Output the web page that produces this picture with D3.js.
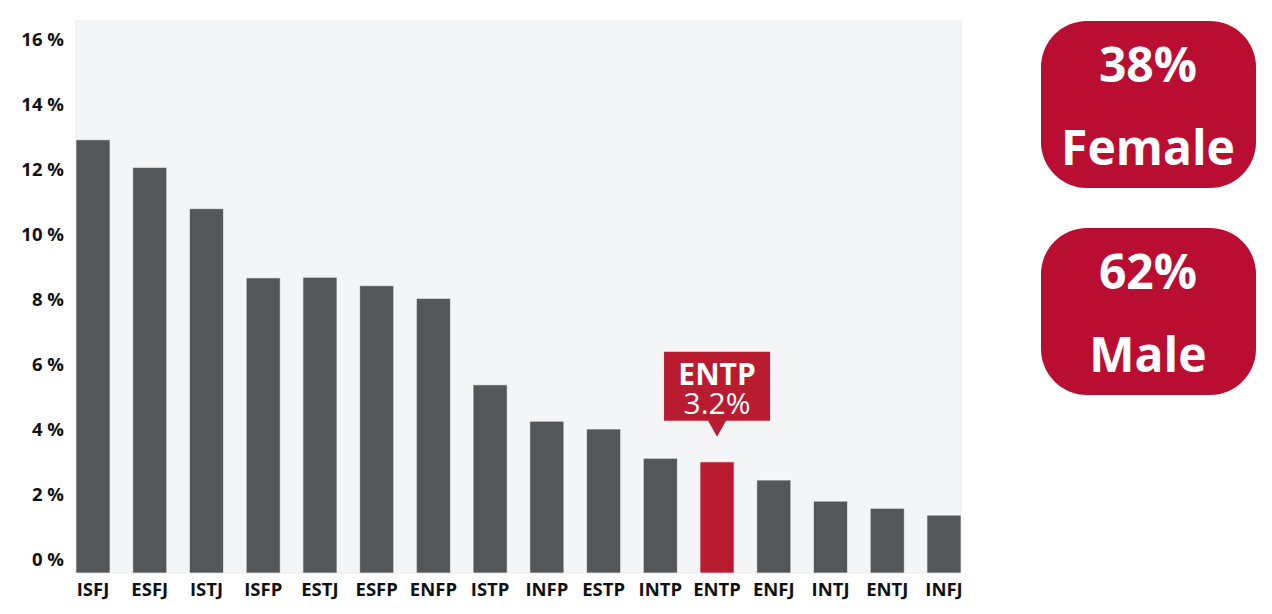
<!DOCTYPE html>
<html><head><meta charset="utf-8">
<script src="https://cdn.jsdelivr.net/npm/d3@7"></script>
<style>body{margin:0;background:#fff;} svg{display:block;font-family:"Open Sans",sans-serif;}</style>
</head><body><svg id="c" width="1272" height="614"></svg>
<script>
const categories = ["ISFJ","ESFJ","ISTJ","ISFP","ESTJ","ESFP","ENFP","ISTP","INFP","ESTP","INTP","ENTP","ENFJ","INTJ","ENTJ","INFJ"];
const values = [12.93,12.08,10.81,8.68,8.70,8.44,8.05,5.39,4.27,4.03,3.13,3.02,2.46,1.81,1.59,1.38];
const tickValues = [0,2,4,6,8,10,12,14,16];
const highlight = "ENTP";
const highlightLabel = "3.2%";
const genderPct = ["38%","62%"];
const genderName = ["Female","Male"];

const svg = d3.select("#c");
const plot = {l:76, r:961, t:21, b:573};
const x = d3.scaleBand().domain(categories).range([plot.l, plot.r]).paddingInner(0.4).paddingOuter(0);
const y = d3.scaleLinear().domain([0,16]).range([560,40]);

svg.append("rect").attr("x",plot.l).attr("y",plot.t).attr("width",plot.r-plot.l).attr("height",plot.b-plot.t)
  .attr("fill","#f4f5f7").attr("stroke","#e9eaee").attr("stroke-width",1);

svg.selectAll("rect.bar").data(categories).join("rect").attr("class","bar")
  .attr("x",d=>x(d)).attr("width",x.bandwidth())
  .attr("y",(d,i)=>y(values[i])).attr("height",(d,i)=>plot.b - y(values[i]))
  .attr("fill",d=>d===highlight?"#b91b30":"#54575a")
  .attr("stroke","rgba(255,255,255,0.6)").attr("stroke-width",1);

// y axis labels
const ya = svg.append("g").attr("transform",`translate(64,0)`).call(d3.axisLeft(y).tickValues(tickValues).tickSize(0).tickPadding(0).tickFormat(d=>d+" %"));
ya.select(".domain").remove();
ya.selectAll("text").attr("font-size",18.5).attr("font-weight",700).attr("fill","#111").attr("font-family","'Open Sans',sans-serif");

// x axis labels
const xa = svg.append("g").attr("transform",`translate(0,${plot.b})`).call(d3.axisBottom(x).tickSize(0).tickPadding(10));
xa.select(".domain").remove();
xa.selectAll("text").attr("font-size",18.5).attr("font-weight",700).attr("fill","#111").attr("font-family","'Open Sans',sans-serif");

// tooltip
const hi = categories.indexOf(highlight);
const cx = x(highlight) + x.bandwidth()/2;
const tipBottom = y(values[hi]) - 41;
const tw = 106, th = 69;
const tg = svg.append("g");
tg.append("path").attr("fill","#b91b30")
  .attr("d",`M${cx-tw/2},${tipBottom-th} H${cx+tw/2} V${tipBottom} H${cx+9} L${cx},${tipBottom+16} L${cx-9},${tipBottom} H${cx-tw/2} Z`);
tg.append("text").attr("x",cx).attr("y",tipBottom-th+33).attr("text-anchor","middle").attr("fill","#fff")
  .attr("font-size",30).attr("font-weight",700).text(highlight);
tg.append("text").attr("x",cx).attr("y",tipBottom-th+62).attr("text-anchor","middle").attr("fill","#fff")
  .attr("font-size",30).attr("font-weight",400).text(highlightLabel);

// gender boxes
const boxTop = [21,228];
genderPct.forEach((p,i)=>{
  const g = svg.append("g");
  g.append("rect").attr("x",1041).attr("y",boxTop[i]).attr("width",215).attr("height",167).attr("rx",46).attr("ry",46).attr("fill","#b90e31");
  g.append("text").attr("x",1148).attr("y",boxTop[i]+61).attr("text-anchor","middle").attr("fill","#fff")
    .attr("font-size",48).attr("font-weight",700).text(p);
  g.append("text").attr("x",1148).attr("y",boxTop[i]+144).attr("text-anchor","middle").attr("fill","#fff")
    .attr("font-size",48).attr("font-weight",700).text(genderName[i]);
});
</script></body></html>
